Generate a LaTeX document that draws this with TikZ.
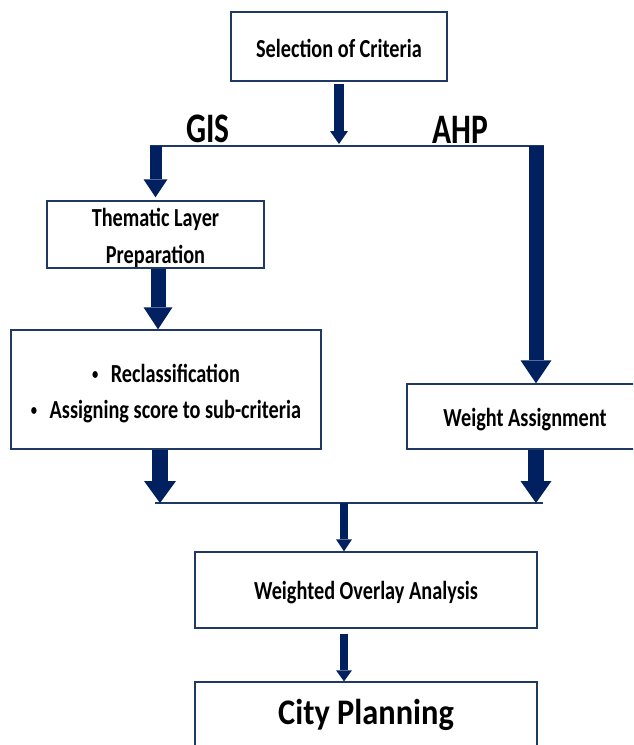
\documentclass[tikz,border=0pt]{standalone}
\usepackage{fontspec}
\setmainfont{Carlito}
\usepackage{graphicx}
\usetikzlibrary{arrows.meta}
\definecolor{arrowblue}{HTML}{002060}
\definecolor{lineblue}{HTML}{1F3864}
\newcommand\sqz[2][0.78]{\scalebox{#1}[1]{#2}}
\newcommand\bul{\makebox[8pt][c]{\raisebox{2.5pt}{\scalebox{0.62}{•}}}}
\begin{document}
\begin{tikzpicture}[x=1pt,y=-1pt,
  box/.style={draw=lineblue, line width=1.4pt, inner sep=0pt, fill=white,
    font=\bfseries\fontsize{26}{37}\selectfont, align=center},
  conn/.style={draw=lineblue, line width=1.4pt},
  lbl/.style={inner sep=0pt, font=\bfseries\fontsize{42}{46}\selectfont},
  arr/.style args={#1/#2/#3}{draw=arrowblue, line width=#1,
    -{Triangle[width=#2,length=#3,line width=0pt]}}
]
\useasboundingbox (0,0) rectangle (633,745);
\clip (0,0) rectangle (633,745);

% boxes
\node[box, minimum width=216pt, minimum height=69pt, text height=21pt, text depth=0pt]
  (sel) at (339,46.5) {\sqz{Selection of Criteria}};
\node[box, minimum width=217pt, minimum height=67pt, text height=57pt, text depth=0pt]
  (thema) at (155.5,234.5) {\sqz{Thematic Layer}\\\sqz{Preparation}};
\node[box, minimum width=310pt, minimum height=119pt, text height=57pt, text depth=0pt,
  font=\bfseries\fontsize{26}{36}\selectfont]
  (reclass) at (166,389.5) {\sqz{\bul\hspace{16pt}Reclassification}\\\sqz{\bul\hspace{16pt}Assigning score to sub-criteria}};
\node[box, minimum width=258pt, minimum height=65pt, text height=19pt, text depth=0pt]
  (weight) at (536,416.5) {\hspace*{-22pt}\sqz{Weight Assignment}};
\node[box, minimum width=342pt, minimum height=76pt, text height=18pt, text depth=0pt]
  (woa) at (366,590) {\sqz{Weighted Overlay Analysis}};
\node[box, minimum width=342pt, minimum height=78pt, text height=6pt, text depth=0pt,
  font=\bfseries\fontsize{36}{40}\selectfont]
  (city) at (366,721) {\sqz[0.9]{City Planning}};

% labels
\node[lbl, anchor=base] (gis) at (208,142) {\sqz[0.75]{GIS}};
\node[lbl, anchor=base] (ahp) at (460,143) {\sqz[0.75]{AHP}};

% connector lines
\coordinate (tl) at (149.5,146);
\coordinate (tr) at (543.5,146);
\coordinate (bl) at (155,503);
\coordinate (br) at (543,503);
\draw[conn] (tl) -- (tr);
\draw[conn] (bl) -- (br);

% arrows
\draw[arr={10pt/18pt/13pt}] ([yshift=-2pt]sel.south) -- ([yshift=2pt]sel.south |- tl);
\draw[arr={12pt/24pt/18pt}] (thema.north |- tl) -- ([yshift=3pt]thema.north);
\draw[arr={15pt/29pt/22pt}] ([xshift=2.5pt]thema.south) -- ([xshift=2.5pt]thema.south |- reclass.north);
\draw[arr={15pt/31pt/23pt}] (weight.north |- tr) -- (weight.north);
\draw[arr={16pt/32pt/22pt}] ([xshift=-6pt]reclass.south) -- ([xshift=-6pt]reclass.south |- bl);
\draw[arr={16pt/31pt/22pt}] (weight.south) -- (weight.south |- br);
\draw[arr={8pt/16pt/12pt}] ([xshift=-22pt]woa.north |- bl) -- ([xshift=-22pt]woa.north);
\draw[arr={8pt/16pt/11pt}] ([xshift=-22pt,yshift=-5pt]woa.south) -- ([xshift=-22pt]city.north);
\end{tikzpicture}
\end{document}
